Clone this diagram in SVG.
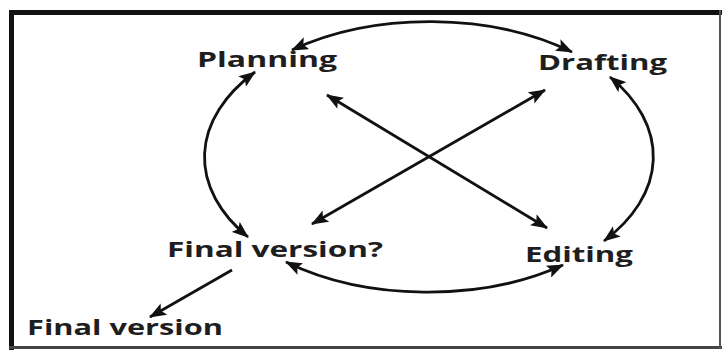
<svg xmlns="http://www.w3.org/2000/svg" width="722" height="352" viewBox="0 0 722 352">
<style>
.lbl{font-family:"Open Sans","Liberation Sans",sans-serif;font-weight:700;font-size:21px;fill:#1e1e1e}
.c{fill:none;stroke:#111;stroke-width:2.8}
</style>
<defs>
<marker id="ah" viewBox="0 0 17 13" refX="16" refY="6.5" markerWidth="17" markerHeight="13" markerUnits="userSpaceOnUse" orient="auto-start-reverse">
<path d="M0,0 L17,6.5 L0,13 L3.5,6.5 Z" fill="#111"/>
</marker>
</defs>
<rect x="0" y="0" width="722" height="352" fill="#ffffff"/>
<g id="frame">
<rect x="9" y="10" width="713" height="5" fill="#111"/>
<rect x="9" y="10" width="5" height="340" fill="#111"/>
<rect x="9" y="346" width="713" height="3" fill="#444"/>
<rect x="719" y="10" width="2" height="339" fill="#555"/>
</g>
<g id="connectors">
<path class="c" d="M292,50 A225,135 0 0 1 572,52" marker-start="url(#ah)" marker-end="url(#ah)"/>
<path class="c" d="M610,77 A225,135 0 0 1 604,241" marker-start="url(#ah)" marker-end="url(#ah)"/>
<path class="c" d="M563,265 A225,135 0 0 1 286,262" marker-start="url(#ah)" marker-end="url(#ah)"/>
<path class="c" d="M248,237 A225,135 0 0 1 255,72" marker-start="url(#ah)" marker-end="url(#ah)"/>
<path class="c" d="M327,95 L547,228" marker-start="url(#ah)" marker-end="url(#ah)"/>
<path class="c" d="M545,90 L312,224" marker-start="url(#ah)" marker-end="url(#ah)"/>
<path class="c" d="M232,270 L150,317" marker-end="url(#ah)"/>
</g>
<g id="planning"><text class="lbl" x="197" y="67" textLength="140" lengthAdjust="spacingAndGlyphs">Planning</text></g>
<g id="drafting"><text class="lbl" x="538" y="70" textLength="129" lengthAdjust="spacingAndGlyphs">Drafting</text></g>
<g id="final-question"><text class="lbl" x="167" y="257" textLength="216" lengthAdjust="spacingAndGlyphs">Final version?</text></g>
<g id="editing"><text class="lbl" x="525" y="262" textLength="108" lengthAdjust="spacingAndGlyphs">Editing</text></g>
<g id="final-version"><text class="lbl" x="27" y="335" textLength="196" lengthAdjust="spacingAndGlyphs">Final version</text></g>
</svg>
